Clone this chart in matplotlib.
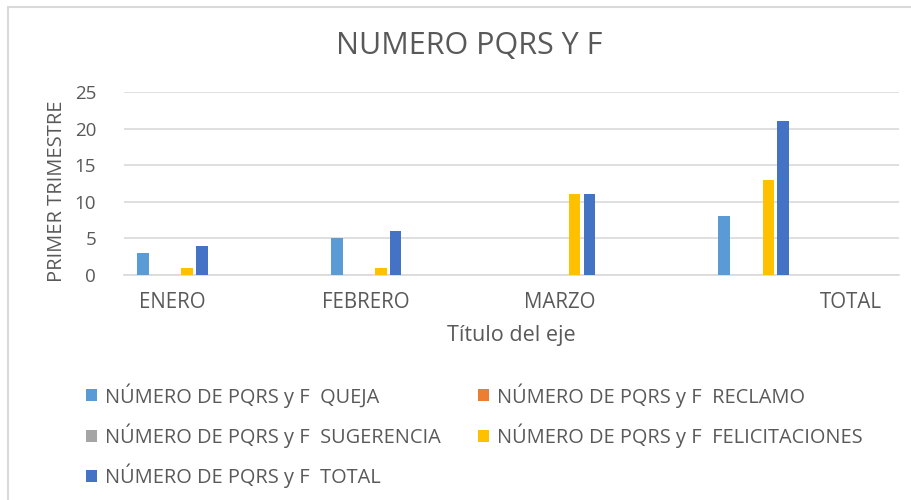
import matplotlib.pyplot as plt
import matplotlib.patches as mpatches
import numpy as np

categories = ["ENERO", "FEBRERO", "MARZO", ""]
series_names = [
    "NÚMERO DE PQRS y F  QUEJA",
    "NÚMERO DE PQRS y F  RECLAMO",
    "NÚMERO DE PQRS y F  SUGERENCIA",
    "NÚMERO DE PQRS y F  FELICITACIONES",
    "NÚMERO DE PQRS y F  TOTAL",
]
queja = [3, 5, 0, 8]
reclamo = [0, 0, 0, 0]
sugerencia = [0, 0, 0, 0]
felicitaciones = [1, 1, 11, 13]
total = [4, 6, 11, 21]
tick_labels = ["ENERO", "FEBRERO", "MARZO", "TOTAL"]
tick_pos = [0, 1, 2, 3.5]

colors = ["#5B9BD5", "#ED7D31", "#A5A5A5", "#FFC000", "#4472C4"]
text_color = "#595959"
grid_color = "#D9D9D9"
font = "Open Sans"

fig = plt.figure(figsize=(9.12, 5), dpi=100)
fig.patches.append(mpatches.Rectangle((8 / 912, -0.1), 1.2, 1 - 7 / 500 + 0.1,
                                      transform=fig.transFigure, fill=False,
                                      edgecolor="#D9D9D9", linewidth=1.5))

ax = fig.add_axes([124 / 912, 1 - 275 / 500, 775 / 912, 183 / 500])

x = np.arange(len(categories))
step = 0.076
width = 0.06
all_series = [queja, reclamo, sugerencia, felicitaciones, total]
handles = []
for i, (vals, name, c) in enumerate(zip(all_series, series_names, colors)):
    b = ax.bar(x + (i - 2) * step, vals, width, color=c, label=name, zorder=3)
    handles.append(b)

ax.set_xlim(-0.25, 3.75)
ax.set_ylim(0, 25)
ax.set_yticks([0, 5, 10, 15, 20, 25])
ax.yaxis.grid(True, color=grid_color, linewidth=1.2, zorder=0)
for s in ["top", "right", "left"]:
    ax.spines[s].set_visible(False)
ax.spines["bottom"].set_color(grid_color)
ax.spines["bottom"].set_linewidth(1.2)
ax.tick_params(length=0, colors=text_color)
ax.tick_params(axis="y", pad=20, labelsize=13.5)
ax.tick_params(axis="x", pad=12, labelsize=14.8)
ax.set_xticks(tick_pos)
ax.set_xticklabels(tick_labels, fontfamily=font)
for lbl in ax.get_yticklabels():
    lbl.set_fontfamily(font)

# axis titles
fig.text(57 / 912, 1 - 191 / 500, "PRIMER TRIMESTRE", rotation=90, ha="center", va="center",
         color=text_color, fontsize=14.5, fontfamily=font)
ax.set_xlabel("Título del eje", color=text_color, fontsize=15.5, fontfamily=font)
ax.xaxis.set_label_coords((511 - 124) / 775, -(335 - 275) / 183)
ax.xaxis.label.set_va("center")

fig.text(469 / 912, 1 - 46 / 500, "NUMERO PQRS Y F", ha="center", va="center",
         fontsize=22, color=text_color, fontfamily=font)

order = [0, 2, 4, 1, 3]
fig.legend([handles[i] for i in order], [series_names[i] for i in order],
           loc="upper left", bbox_to_anchor=(68 / 912, 1 - 365 / 500), ncol=2,
           frameon=False, handlelength=0.55, handleheight=0.55, handletextpad=0.4,
           columnspacing=1.85, labelspacing=0.78,
           prop={"family": font, "size": 14.4},
           labelcolor=text_color)

fig.savefig("out.png", dpi=100)
